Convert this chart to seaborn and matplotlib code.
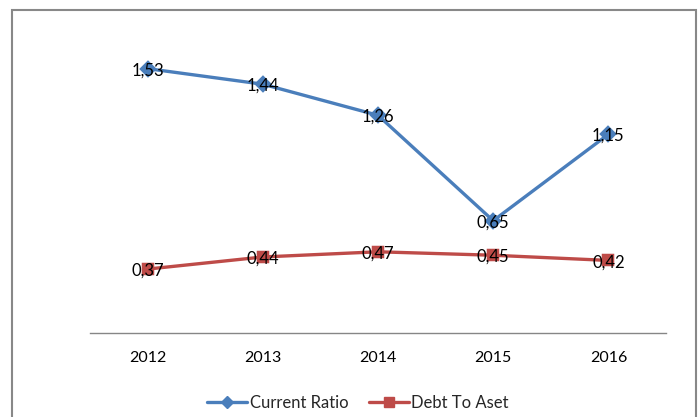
import matplotlib
matplotlib.use("Agg")
import matplotlib.pyplot as plt
from matplotlib.lines import Line2D
from matplotlib.patches import Rectangle
import pandas as pd
import seaborn as sns

years = ["2012", "2013", "2014", "2015", "2016"]
current_ratio = [1.53, 1.44, 1.26, 0.65, 1.15]
debt_to_aset = [0.37, 0.44, 0.47, 0.45, 0.42]
series_names = ["Current Ratio", "Debt To Aset"]
colors = ["#4A7EBB", "#BE4B48"]

df = pd.DataFrame({
    "year": years * 2,
    "value": current_ratio + debt_to_aset,
    "series": [series_names[0]] * len(years) + [series_names[1]] * len(years),
})

sns.set_theme(style="white")
plt.rcParams["font.family"] = ["Lato", "DejaVu Sans"]

fig = plt.figure(figsize=(7, 4.17), dpi=100)
ax = fig.add_axes([90 / 700, 1 - 333 / 417, 576 / 700, 311 / 417])

sns.pointplot(data=df, x="year", y="value", hue="series", order=years,
              hue_order=series_names, palette=colors, markers=["D", "s"],
              linestyles=["-", "-"], linewidth=2.4, markersize=7.5, ax=ax,
              legend=False)

for vals in (current_ratio, debt_to_aset):
    for i, v in enumerate(vals):
        ax.text(i, v - 0.01, f"{v:.2f}".replace(".", ","), ha="center", va="center",
                fontsize=12, color="black")

ax.set_ylim(0, 1.8)
ax.set_xlim(-0.5, len(years) - 0.5)
ax.set_yticks([])
ax.set_xlabel("")
ax.set_ylabel("")
for side in ["top", "right", "left"]:
    ax.spines[side].set_visible(False)
ax.spines["bottom"].set_color("#868686")
ax.spines["bottom"].set_linewidth(1.0)
ax.tick_params(axis="x", length=0, pad=13, labelsize=11.5, colors="black")

handles = [
    Line2D([0], [0], color=colors[0], marker="D", lw=2.4, markersize=6),
    Line2D([0], [0], color=colors[1], marker="s", lw=2.4, markersize=7),
]
fig.legend(handles, series_names, loc="center", bbox_to_anchor=(358 / 700, 1 - 403 / 417),
           ncol=2, frameon=False, fontsize=12, handlelength=2.4, columnspacing=1.2,
           handletextpad=0.15)

fig.add_artist(Rectangle((12 / 700, -0.1), 684 / 700, 1.1 - 10 / 417,
                         transform=fig.transFigure, fill=False,
                         edgecolor="#888888", linewidth=1.5))

fig.savefig("out.png", dpi=100)
